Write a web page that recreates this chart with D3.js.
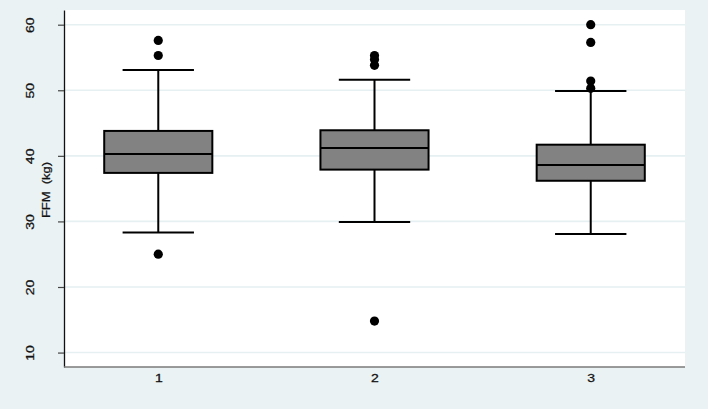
<!DOCTYPE html>
<html>
<head>
<meta charset="utf-8">
<script src="https://cdn.jsdelivr.net/npm/d3@7"></script>
<style>
  body { margin: 0; background: #eaf2f3; }
  svg { display: block; font-family: "Liberation Sans", Arial, sans-serif; }
</style>
</head>
<body>
<div id="container"></div>
<script>
// values
const groups = ['1', '2', '3'];
const q1 = [37.4, 37.9, 36.2];
const medians = [40.3, 41.2, 38.6];
const q3 = [43.8, 43.9, 41.7];
const whiskerLow = [28.3, 29.9, 28.1];
const whiskerHigh = [53.1, 51.6, 49.9];
const outliers = [
  [57.6, 55.3, 25.0],
  [55.3, 54.7, 53.8, 14.8],
  [60.0, 57.3, 51.4, 50.3]
];
const yTicks = [10, 20, 30, 40, 50, 60];

const w = 708;
const h = 409;
const plot = { left: 64, right: 685, top: 10, bottom: 367 };

const svg = d3.select('#container')
              .append('svg')
              .attr('width', w)
              .attr('height', h);

svg.append('rect')
   .attr('width', w)
   .attr('height', h)
   .attr('fill', '#eaf2f3');

svg.append('rect')
   .attr('x', plot.left)
   .attr('y', plot.top)
   .attr('width', plot.right - plot.left)
   .attr('height', plot.bottom - plot.top)
   .attr('fill', 'white');

const xScale = d3.scalePoint()
                 .domain(groups)
                 .range([plot.left, plot.right])
                 .padding(0.436);
const step = xScale.step();
const boxW = step * 0.5;
const capW = step * 0.33;

const yScale = d3.scaleLinear()
                 .domain([7.8, 62.24])
                 .range([plot.bottom, plot.top]);

// grid lines
svg.append('g')
   .selectAll('line')
   .data(yTicks)
   .enter()
   .append('line')
   .attr('x1', plot.left)
   .attr('x2', plot.right)
   .attr('y1', (d) => yScale(d))
   .attr('y2', (d) => yScale(d))
   .attr('stroke', '#e6eff1')
   .attr('stroke-width', 1.6);

// y axis
const yAxis = d3.axisLeft(yScale).tickValues(yTicks).tickSize(6).tickSizeOuter(0);
const yG = svg.append('g')
              .attr('transform', 'translate(' + plot.left + ',0)')
              .call(yAxis);
yG.select('.domain').attr('stroke', '#111').attr('stroke-width', 1.3);
yG.selectAll('.tick line').attr('stroke', '#444').attr('stroke-width', 1.2);
yG.selectAll('.tick text')
  .attr('x', null)
  .attr('dy', null)
  .attr('text-anchor', 'middle')
  .attr('transform', 'translate(-30,0) rotate(-90) scale(1.4,1)')
  .style('font-size', '10px')
  .attr('fill', '#111')
  .attr('stroke', '#111')
  .attr('stroke-width', 0.25);

// x axis
const xAxis = d3.axisBottom(xScale).tickSize(0).tickSizeOuter(0).tickPadding(0);
const xG = svg.append('g')
              .attr('transform', 'translate(0,' + plot.bottom + ')')
              .call(xAxis);
xG.select('.domain')
  .attr('d', 'M' + plot.left + ',0H' + plot.right)
  .attr('stroke', '#7a7a7a')
  .attr('stroke-width', 1.6);
xG.selectAll('.tick text')
  .attr('y', 0)
  .attr('dy', null)
  .attr('transform', 'translate(0,15) scale(1.4,1)')
  .style('font-size', '10px')
  .attr('fill', '#111')
  .attr('stroke', '#111')
  .attr('stroke-width', 0.25);

// y title
svg.append('text')
   .attr('transform', 'translate(50,190) rotate(-90) scale(1.3,1)')
   .attr('text-anchor', 'middle')
   .style('font-size', '10px')
   .attr('fill', '#111')
   .attr('stroke', '#111')
   .attr('stroke-width', 0.25)
   .attr('xml:space', 'preserve')
   .text('FFM  (kg)');

// boxes
const boxes = svg.selectAll('.box')
                 .data(groups)
                 .enter()
                 .append('g')
                 .attr('class', 'box');

boxes.append('line')
     .attr('x1', (d) => xScale(d))
     .attr('x2', (d) => xScale(d))
     .attr('y1', (d, i) => yScale(whiskerHigh[i]))
     .attr('y2', (d, i) => yScale(q3[i]))
     .attr('stroke', 'black')
     .attr('stroke-width', 2);

boxes.append('line')
     .attr('x1', (d) => xScale(d))
     .attr('x2', (d) => xScale(d))
     .attr('y1', (d, i) => yScale(q1[i]))
     .attr('y2', (d, i) => yScale(whiskerLow[i]))
     .attr('stroke', 'black')
     .attr('stroke-width', 2);

boxes.append('line')
     .attr('x1', (d) => xScale(d) - capW / 2)
     .attr('x2', (d) => xScale(d) + capW / 2)
     .attr('y1', (d, i) => yScale(whiskerHigh[i]))
     .attr('y2', (d, i) => yScale(whiskerHigh[i]))
     .attr('stroke', 'black')
     .attr('stroke-width', 2);

boxes.append('line')
     .attr('x1', (d) => xScale(d) - capW / 2)
     .attr('x2', (d) => xScale(d) + capW / 2)
     .attr('y1', (d, i) => yScale(whiskerLow[i]))
     .attr('y2', (d, i) => yScale(whiskerLow[i]))
     .attr('stroke', 'black')
     .attr('stroke-width', 2);

boxes.append('rect')
     .attr('x', (d) => xScale(d) - boxW / 2)
     .attr('y', (d, i) => yScale(q3[i]))
     .attr('width', boxW)
     .attr('height', (d, i) => yScale(q1[i]) - yScale(q3[i]))
     .attr('fill', '#828282')
     .attr('stroke', 'black')
     .attr('stroke-width', 2);

boxes.append('line')
     .attr('x1', (d) => xScale(d) - boxW / 2)
     .attr('x2', (d) => xScale(d) + boxW / 2)
     .attr('y1', (d, i) => yScale(medians[i]))
     .attr('y2', (d, i) => yScale(medians[i]))
     .attr('stroke', 'black')
     .attr('stroke-width', 2);

boxes.selectAll('circle')
     .data((d, i) => outliers[i].map((v) => ({ g: d, v: v })))
     .enter()
     .append('circle')
     .attr('cx', (d) => xScale(d.g))
     .attr('cy', (d) => yScale(d.v))
     .attr('r', 4.6)
     .attr('fill', 'black');
</script>
</body>
</html>
